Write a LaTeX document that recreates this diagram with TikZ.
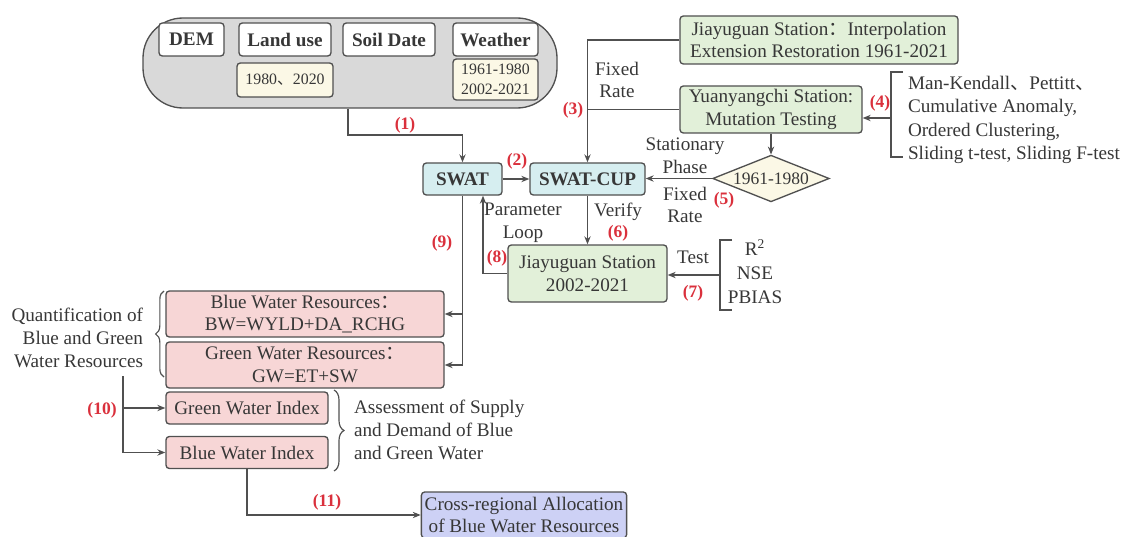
\documentclass[tikz,border=0pt]{standalone}
\usepackage{fontspec}
\setmainfont{Liberation Serif}
\newfontfamily\cjkfont{Noto Sans CJK SC}
\usetikzlibrary{positioning,arrows.meta,shapes.geometric,decorations.pathreplacing}
\definecolor{edgegray}{RGB}{80,80,80}
\definecolor{txtgray}{RGB}{55,55,55}
\definecolor{panelgray}{RGB}{217,217,217}
\definecolor{cream}{RGB}{251,248,230}
\definecolor{swatcyan}{RGB}{214,238,240}
\definecolor{stagreen}{RGB}{226,240,217}
\definecolor{waterpink}{RGB}{247,214,214}
\definecolor{allocblue}{RGB}{205,209,245}
\definecolor{stepred}{RGB}{218,48,60}
\newcommand{\wcolon}{{\cjkfont ：}}
\newcommand{\wcomma}{{\cjkfont 、}}

\begin{document}
\begin{tikzpicture}[
  x=0.6pt, y=-0.6pt,
  font=\fontsize{11.5}{13.6}\selectfont,
  every node/.append style={text=txtgray},
  >={Stealth[length=4.8pt,width=3.8pt]},
  flow/.style={->, draw=edgegray, line width=0.7pt},
  wire/.style={draw=edgegray, line width=0.7pt},
  box/.style={draw=edgegray, line width=0.8pt, rounded corners=2pt, align=center, inner sep=2pt},
  inbox/.style={box, fill=white, font=\fontsize{11.5}{13.6}\selectfont\bfseries, minimum height=19.8pt},
  yearbox/.style={box, fill=cream, font=\fontsize{9.5}{12}\selectfont},
  modelbox/.style={box, fill=swatcyan, font=\fontsize{11.5}{13.6}\selectfont\bfseries, minimum height=19.2pt},
  stationbox/.style={box, fill=stagreen},
  waterbox/.style={box, fill=waterpink},
  allocbox/.style={box, fill=allocblue},
  stepnum/.style={text=stepred, font=\fontsize{10.5}{12}\selectfont\bfseries},
  note/.style={align=center, inner sep=1pt},
]
\useasboundingbox (0,0) rectangle (1121,536);

% ---- input data panel ----
\node[draw=edgegray, line width=0.8pt, fill=panelgray, rounded corners=24pt,
      minimum width=248.4pt, minimum height=54pt] (input) at (350,63) {};
\node[inbox, minimum width=39pt] (dem) at (191.5,39.5) {DEM};
\node[inbox, minimum width=55.2pt] (landuse) at (285,39.5) {Land use};
\node[inbox, minimum width=55.2pt] (soil) at (389,39.5) {Soil Date};
\node[inbox, minimum width=51pt] (weather) at (495.5,39.5) {Weather};
\node[yearbox, minimum width=57.6pt, minimum height=20.4pt] (luyears) at (285,80) {1980\wcomma 2020};
\node[yearbox, minimum width=51pt, minimum height=24.6pt] (wyears) at (495.5,79.5) {1961-1980\\2002-2021};

% ---- stations and model ----
\node[modelbox, minimum width=47.4pt] (swat) at (462.5,179) {SWAT};
\node[modelbox, minimum width=69pt] (cup) at (587.5,179) {SWAT-CUP};
\node[stationbox, minimum width=166.8pt, minimum height=28.8pt] (jyinterp) at (819,40)
  {Jiayuguan Station\wcolon Interpolation\\Extension Restoration 1961-2021};
\node[stationbox, minimum width=109.2pt, minimum height=28.2pt] (yyc) at (771,109.5)
  {Yuanyangchi Station:\\Mutation Testing};
\node[draw=edgegray, line width=0.8pt, fill=cream, diamond, aspect=2.5, inner sep=0pt,
      minimum width=70pt, minimum height=28pt, font=\fontsize{10.5}{12}\selectfont] (period) at (771,178.5) {1961-1980};
\node[stationbox, minimum width=95.4pt, minimum height=34.2pt] (jyverify) at (587.5,273.5)
  {Jiayuguan Station\\2002-2021};

% ---- test methods and metrics ----
\node[note, anchor=west, align=left, font=\fontsize{11.5}{14}\selectfont] (methods) at (906,120)
  {Man-Kendall\wcomma Pettitt\wcomma\\Cumulative Anomaly,\\Ordered Clustering,\\Sliding t-test, Sliding F-test};
\coordinate (mtop) at (891,72);
\coordinate (mbot) at (891,157);
\coordinate (mmid) at (891,118);
\draw[wire] ([xshift=7.2pt]mtop) -- (mtop) -- (mbot) -- ([xshift=7.2pt]mbot);

\node[note, font=\fontsize{11.5}{14.4}\selectfont] (metrics) at (755,272) {R\textsuperscript{2}\\NSE\\PBIAS};
\coordinate (ttop) at (720,240);
\coordinate (tbot) at (720,310);
\coordinate (tmid) at (720,275);
\draw[wire] ([xshift=7.2pt]ttop) -- (ttop) -- (tbot) -- ([xshift=7.2pt]tbot);

% ---- water resources ----
\node[waterbox, minimum width=166.8pt, minimum height=27.6pt] (bluewr) at (305,314)
  {Blue Water Resources\wcolon\\BW=WYLD+DA\_RCHG};
\node[waterbox, minimum width=166.8pt, minimum height=27.6pt] (greenwr) at (305,365)
  {Green Water Resources\wcolon\\GW=ET+SW};
\node[waterbox, minimum width=97.2pt, minimum height=19.2pt] (gwi) at (247,408) {Green Water Index};
\node[waterbox, minimum width=97.2pt, minimum height=19.2pt] (bwi) at (247,452.5) {Blue Water Index};
\node[allocbox, minimum width=121.2pt, minimum height=27.6pt] (alloc) at (524,515)
  {Cross-regional Allocation\\of Blue Water Resources};

\node[note, anchor=east, align=right, font=\fontsize{11.5}{13.8}\selectfont] (quant) at (145,338)
  {Quantification of\\Blue and Green\\Water Resources};
\draw[wire, decorate, decoration={brace, amplitude=5pt}] (164,377) -- (164,291);
\node[note, anchor=west, align=left, font=\fontsize{11.5}{13.8}\selectfont] (assess) at (352,430)
  {Assessment of Supply\\and Demand of Blue\\and Green Water};
\draw[wire, decorate, decoration={brace, amplitude=6pt}] (334,390) -- (334,471);

% ---- connectors ----
\coordinate (in1) at (348,135);
\draw[flow] (input.south -| in1) -- (in1) -| (swat.north);
\node[stepnum] at (405,125) {(1)};

\draw[flow] (swat) -- (cup);
\node[stepnum] at (517,161) {(2)};

\draw[flow] (jyinterp.west) -| (cup.north);
\draw[wire] (yyc.west) -- (yyc.west -| cup.north);
\node[note] at (617,80) {Fixed\\Rate};
\node[stepnum] at (573,110) {(3)};

\draw[flow] (mmid) -- (mmid -| yyc.east);
\node[stepnum] at (880,103) {(4)};

\draw[flow] (yyc) -- (period);
\draw[flow] (period.west) -- (period.west -| cup.east);
\node[note] at (685,156) {Stationary\\Phase};
\node[note] at (685,205) {Fixed\\Rate};
\node[stepnum] at (724,200) {(5)};

\draw[flow] (cup) -- (jyverify);
\node[note] at (618,212) {Verify};
\node[stepnum] at (618,233) {(6)};

\draw[flow] (tmid) -- (tmid -| jyverify.east);
\node[note] at (693,257) {Test};
\node[stepnum] at (693,293) {(7)};

\coordinate (loop) at (483,0);
\draw[flow] (jyverify.west) -| (swat.south -| loop);
\node[note] at (523,223) {Parameter\\Loop};
\node[stepnum] at (497,258) {(8)};

\draw[flow] (swat.south) |- (greenwr.east);
\draw[flow] (bluewr.east -| swat.south) -- (bluewr.east);
\node[stepnum] at (442,243) {(9)};

\coordinate (q10) at (123,376);
\draw[flow] (q10) |- (bwi.west);
\draw[flow] (gwi.west -| q10) -- (gwi.west);
\node[stepnum] at (102,410) {(10)};

\draw[flow] (bwi.south) |- (alloc.west);
\node[stepnum] at (327,502) {(11)};

\end{tikzpicture}
\end{document}
